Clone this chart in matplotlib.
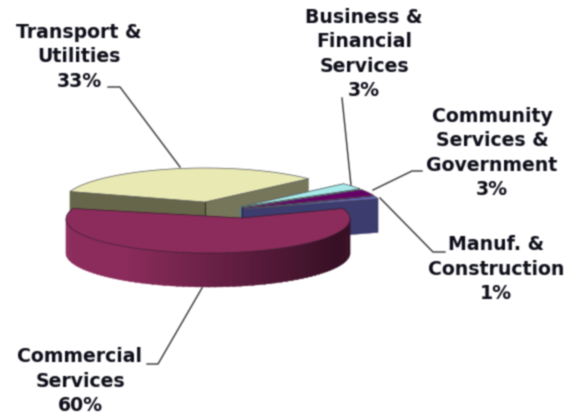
import numpy as np
import matplotlib
matplotlib.use('Agg')
import matplotlib.pyplot as plt
from matplotlib.patches import Polygon

labels = ['Commercial\nServices\n60%', 'Transport &\nUtilities\n33%', 'Business &\nFinancial\nServices\n3%',
          'Community\nServices &\nGovernment\n3%', 'Manuf. &\nConstruction\n1%']
shares = [60, 33, 3, 3, 1]
top_colors = ['#8c2c5c', '#eaeab4', '#a8eaea', '#660066', '#6a6ad8']
wall_colors = ['#8c2c5c', '#66664a', '#4e8a8a', '#3c003c', '#3c3c6e']

# centre of every slice after explosion, pixels
centers = [(208, 219), (205, 202), (240, 207), (242, 208), (243, 209)]
label_pos = [(80, 381), (79, 57), (364, 54), (492, 153), (496, 269)]
leaders = [[(147, 364), (158, 364), (202, 288)],
           [(108, 87), (120, 87), (180, 167)],
           [(342, 98), (351, 185)],
           [(422, 171), (412, 171), (373, 190)],
           [(445, 252), (433, 252), (380, 198)]]

rx, ry, depth = 142, 34, 34

# slices run clockwise from the left end of the commercial slice
start = 270 - shares[0] * 3.6 / 2
edges = [(start, start + shares[0] * 3.6)]
a = start
for v in shares[1:]:
    edges.append((a, a - v * 3.6))
    a = a - v * 3.6


def arc(c, a0, a1, n=80):
    t = np.radians(np.linspace(a0, a1, n))
    return np.column_stack([c[0] + rx * np.cos(t), c[1] - ry * np.sin(t)])


def wall(pts, color, z):
    # wall under an edge, drop it by the pie depth
    low = pts[::-1] + [0, depth]
    ax.add_patch(Polygon(np.vstack([pts, low]), closed=True, fc=color, ec=color, lw=0.3, zorder=z))


def soften(img, dpi):
    # the original is a blurry screenshot
    out = img.copy()
    for ax_ in (0, 1):
        out = 0.22 * np.roll(out, 1, axis=ax_) + 0.56 * out + 0.22 * np.roll(out, -1, axis=ax_)
    return out, 0, 0


fig = plt.figure(figsize=(5.66, 4.15), dpi=100)
ax = fig.add_axes([0, 0, 1, 1])
ax.set_xlim(0, 566)
ax.set_ylim(415, 0)
ax.set_xticks([])
ax.set_yticks([])
for sp in ax.spines.values():
    sp.set_visible(False)
ax.set_facecolor('white')
ax.set_agg_filter(soften)

# small slices + transport go behind commercial, back to front
for i in [1, 2, 3, 4]:
    a0, a1 = edges[i]
    c = np.array(centers[i], dtype=float)
    rim = arc(c, a0, a1, 40)
    z = 2 + i * 0.1
    wall(np.array([rim[0], c]), wall_colors[i], z)
    wall(np.array([c, rim[-1]]), '#76765a' if i == 1 else wall_colors[i], z)
    if i == 1:
        ax.plot([c[0], c[0]], [c[1], c[1] + depth], color='#30301c', lw=0.8, zorder=z)
    ax.add_patch(Polygon(np.vstack([c, rim]), closed=True, fc=top_colors[i], ec='#55555a', lw=0.5, zorder=z + 0.05))

# commercial slice, gradient on the rim drawn strip by strip
c = np.array(centers[0], dtype=float)
left = np.array([0x8c, 0x2c, 0x5c]) / 255
right = np.array([0x38, 0x10, 0x26]) / 255
n = 70
ts = np.linspace(180, 360, n + 1)
for k in range(n):
    x = np.cos(np.radians(ts[k]))
    f = min(1, max(0, (x + 0.6) / 1.5))
    wall(arc(c, ts[k], ts[k + 1] + 0.6, 4), left * (1 - f) + right * f, 3)
rim = arc(c, edges[0][0], edges[0][1], 120)
ax.add_patch(Polygon(np.vstack([c + [34, -1], rim]), closed=True, fc=top_colors[0], ec='#3a1a2c', lw=0.5, zorder=3.5))

for pts in leaders:
    pts = np.array(pts)
    ax.plot(pts[:, 0], pts[:, 1], color='#333333', lw=1.0, zorder=5)

for s, p in zip(labels, label_pos):
    ax.text(p[0], p[1], s, ha='center', va='center', fontsize=13.6, fontweight='bold',
            family='DejaVu Sans', color='#10101c', linespacing=1.34, zorder=6)

fig.savefig('out.png', dpi=100)
